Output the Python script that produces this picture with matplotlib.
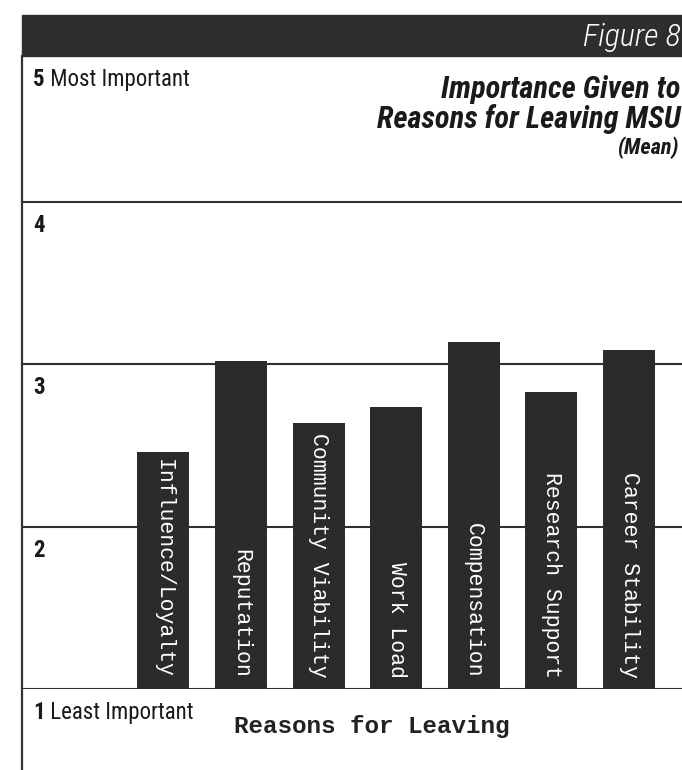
import matplotlib.pyplot as plt
from matplotlib import font_manager as fm
from matplotlib.patches import Rectangle
from matplotlib.lines import Line2D

reasons = ["Influence/Loyalty", "Reputation", "Community Viability", "Work Load",
           "Compensation", "Research Support", "Career Stability"]
means = [2.46, 3.02, 2.64, 2.74, 3.14, 2.83, 3.09]
levels = [1, 2, 3, 4, 5]
level_names = {5: "Most Important", 1: "Least Important"}


def pick_condensed():
    # look for a narrow sans face; fall back to Roboto, which is fairly tight
    names = {f.name for f in fm.fontManager.ttflist}
    for n in ["Liberation Sans Narrow", "Roboto Condensed", "Noto Sans Condensed",
              "Open Sans Condensed", "DejaVu Sans Condensed"]:
        if n in names:
            return n, "normal"
    for f in fm.fontManager.ttflist:
        if ("Narrow" in f.name or "Condensed" in f.name) and "Mono" not in f.name:
            return f.name, "normal"
    for f in fm.fontManager.ttflist:
        if f.stretch in ("condensed", "semi-condensed", 300, 400) and "Mono" not in f.name \
                and "Serif" not in f.name:
            return f.name, "condensed"
    return "Roboto", "normal"


cond_name, cond_stretch = pick_condensed()
narrow = dict(family=[cond_name, "DejaVu Sans"], stretch=cond_stretch)
mono = ["Liberation Mono", "DejaVu Sans Mono"]
ink = "#2b2b2b"

fig = plt.figure(figsize=(6.82, 7.70), dpi=100)
W, H = 682, 770

ax = fig.add_axes([22 / W, 1 - 689 / H, 1 - 22 / W, (689 - 56) / H])
ax.set_xlim(-1.823, 6.682)
ax.set_ylim(1, 4.9)

x = list(range(len(reasons)))
ax.bar(x, [m - 1 for m in means], bottom=1, width=0.67, color=ink, zorder=3)

for lv in levels[:-1]:
    ax.axhline(lv, color="#2f2f2f", lw=1.5, zorder=2)

for i, name in enumerate(reasons):
    ax.text(i, 1.07, name, rotation=270, ha="center", va="bottom",
            family=mono, fontsize=15.5, color="white", zorder=4)

for s in ax.spines.values():
    s.set_visible(False)
ax.set_xticks([])
ax.set_yticks([])

# scale labels on the left, bold number then plain words
for lv in levels:
    if lv == 5:
        xy, xyc = (0, 1), "axes fraction"
    else:
        xy, xyc = (0, lv), ax.get_yaxis_transform()
    t = ax.annotate(str(lv), xy=xy, xycoords=xyc, xytext=(8, -17),
                    textcoords="offset points", va="center", ha="left",
                    fontsize=16.5, fontweight="bold", color="#1a1a1a", **narrow)
    if lv in level_names:
        ax.annotate(" " + level_names[lv], xy=(1, 0), xycoords=t, va="bottom",
                    ha="left", fontsize=16.5, color="#1a1a1a", **narrow)

ax.text(0.53, -0.06, "Reasons for Leaving", transform=ax.transAxes, ha="center",
        va="center", family=mono, fontweight="bold", fontsize=17.5, color="#222222")

# header band and left frame line
fig.add_artist(Rectangle((22 / W, 1 - 56 / H), 1, 41 / H, transform=fig.transFigure,
                         color="#2e2e2e", zorder=1))
fig.add_artist(Line2D([22 / W, 22 / W], [0.0, 1 - 56 / H], transform=fig.transFigure,
                      color="#333333", lw=1.6))

fig.text(0.998, 1 - 37 / H, "Figure 8", ha="right", va="center", style="italic",
         fontweight="light", fontsize=23, color="white", **narrow)
fig.text(0.998, 1 - 90 / H, "Importance Given to", ha="right", va="center",
         style="italic", fontweight="bold", fontsize=22, color="#1a1a1a", **narrow)
fig.text(0.998, 1 - 119 / H, "Reasons for Leaving MSU", ha="right", va="center",
         style="italic", fontweight="bold", fontsize=22, color="#1a1a1a", **narrow)
fig.text(0.996, 1 - 148 / H, "(Mean)", ha="right", va="center",
         style="italic", fontweight="bold", fontsize=16, color="#1a1a1a", **narrow)

fig.savefig("out.png", dpi=100)
